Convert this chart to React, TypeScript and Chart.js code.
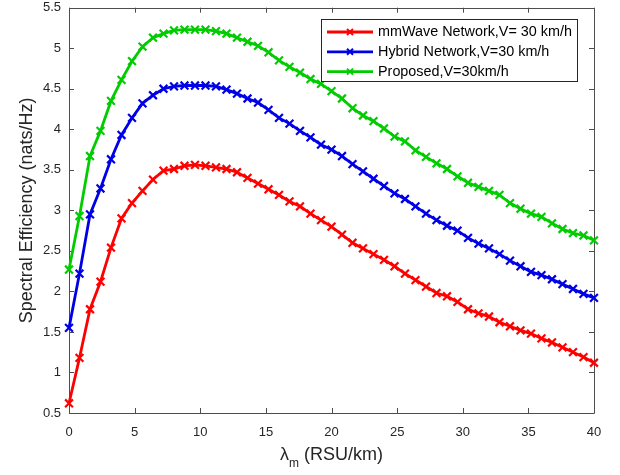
import React, { useEffect, useRef } from "react";
import { Chart, registerables } from "chart.js";

Chart.register(...registerables);

const lambdaValues = [
  0, 0.8, 1.6, 2.4, 3.2, 4, 4.8, 5.6, 6.4, 7.2, 8, 8.8, 9.6, 10.4, 11.2, 12, 12.8,
  13.6, 14.4, 15.2, 16, 16.8, 17.6, 18.4, 19.2, 20, 20.8, 21.6, 22.4, 23.2, 24,
  24.8, 25.6, 26.4, 27.2, 28, 28.8, 29.6, 30.4, 31.2, 32, 32.8, 33.6, 34.4, 35.2,
  36, 36.8, 37.6, 38.4, 39.2, 40,
];

const mmWaveValues = [
  0.62, 1.18, 1.78, 2.12, 2.54, 2.9, 3.09, 3.24, 3.38, 3.49, 3.51, 3.55, 3.56,
  3.55, 3.53, 3.51, 3.47, 3.4, 3.33, 3.26, 3.19, 3.11, 3.05, 2.96, 2.88, 2.8,
  2.7, 2.6, 2.53, 2.46, 2.39, 2.31, 2.22, 2.14, 2.06, 1.98, 1.94, 1.87, 1.78,
  1.73, 1.69, 1.62, 1.57, 1.52, 1.48, 1.42, 1.37, 1.31, 1.25, 1.19, 1.12,
];

const hybridValues = [
  1.55, 2.22, 2.95, 3.27, 3.63, 3.93, 4.14, 4.32, 4.42, 4.5, 4.53, 4.54, 4.54,
  4.54, 4.53, 4.49, 4.44, 4.38, 4.33, 4.24, 4.14, 4.07, 3.98, 3.9, 3.81, 3.75,
  3.67, 3.57, 3.48, 3.39, 3.3, 3.21, 3.14, 3.05, 2.96, 2.88, 2.81, 2.75, 2.66,
  2.59, 2.53, 2.46, 2.38, 2.31, 2.24, 2.2, 2.15, 2.09, 2.03, 1.97, 1.92,
];

const proposedValues = [
  2.27, 2.93, 3.67, 3.98, 4.35, 4.61, 4.84, 5.02, 5.13, 5.18, 5.22, 5.23, 5.23,
  5.23, 5.21, 5.18, 5.13, 5.08, 5.03, 4.95, 4.85, 4.77, 4.7, 4.62, 4.56, 4.47,
  4.38, 4.26, 4.17, 4.1, 4.01, 3.91, 3.85, 3.74, 3.66, 3.58, 3.51, 3.42, 3.34,
  3.29, 3.24, 3.19, 3.09, 3.02, 2.96, 2.92, 2.84, 2.77, 2.72, 2.69, 2.63,
];

const seriesLabels = [
  "mmWave Network,V= 30 km/h",
  "Hybrid Network,V=30 km/h",
  "Proposed,V=30km/h",
];
const seriesColors = ["#ff0000", "#0000e6", "#00cc00"];

const xTicks = [0, 5, 10, 15, 20, 25, 30, 35, 40];
const yTicks = [0.5, 1, 1.5, 2, 2.5, 3, 3.5, 4, 4.5, 5, 5.5];

const yTitle = "Spectral Efficiency (nats/Hz)";
const xTitleSymbol = "λ";
const xTitleSub = "m";
const xTitleRest = " (RSU/km)";

const FONT = "'Liberation Sans', Arial, Helvetica, sans-serif";
const AXIS_COLOR = "#4d4d4d";
const TEXT_COLOR = "#262626";

function drawX(ctx: CanvasRenderingContext2D, x: number, y: number, r: number) {
  ctx.beginPath();
  ctx.moveTo(x - r, y - r);
  ctx.lineTo(x + r, y + r);
  ctx.moveTo(x - r, y + r);
  ctx.lineTo(x + r, y - r);
  ctx.stroke();
}

const boxPlugin = {
  id: "matlabBox",
  beforeDatasetsDraw(chart: any) {
    const { ctx, chartArea } = chart;
    const { left, right, top, bottom } = chartArea;
    const xs = chart.scales.x;
    const ys = chart.scales.y;
    ctx.save();
    ctx.strokeStyle = AXIS_COLOR;
    ctx.lineWidth = 1;
    ctx.beginPath();
    ctx.rect(Math.round(left) + 0.5, Math.round(top) + 0.5, Math.round(right - left), Math.round(bottom - top));
    ctx.stroke();
    const tl = 5;
    ctx.beginPath();
    xTicks.forEach((v) => {
      const px = Math.round(xs.getPixelForValue(v)) + 0.5;
      ctx.moveTo(px, bottom);
      ctx.lineTo(px, bottom - tl);
      ctx.moveTo(px, top);
      ctx.lineTo(px, top + tl);
    });
    yTicks.forEach((v) => {
      const py = Math.round(ys.getPixelForValue(v)) + 0.5;
      ctx.moveTo(left, py);
      ctx.lineTo(left + tl, py);
      ctx.moveTo(right, py);
      ctx.lineTo(right - tl, py);
    });
    ctx.stroke();
    ctx.restore();
  },
  afterDraw(chart: any) {
    const { ctx, chartArea } = chart;
    const { left, right, top, bottom } = chartArea;
    ctx.save();
    // Y title
    ctx.fillStyle = TEXT_COLOR;
    ctx.font = `18px ${FONT}`;
    ctx.textAlign = "center";
    ctx.textBaseline = "alphabetic";
    ctx.translate(32, (top + bottom) / 2);
    ctx.rotate(-Math.PI / 2);
    ctx.fillText(yTitle, 0, 0);
    ctx.restore();

    // X title
    ctx.save();
    ctx.fillStyle = TEXT_COLOR;
    ctx.textBaseline = "alphabetic";
    ctx.textAlign = "left";
    const big = `18px ${FONT}`;
    const small = `12px ${FONT}`;
    ctx.font = big;
    const w1 = ctx.measureText(xTitleSymbol).width;
    const w3 = ctx.measureText(xTitleRest).width;
    ctx.font = small;
    const w2 = ctx.measureText(xTitleSub).width;
    const total = w1 + w2 + w3;
    let x0 = (left + right) / 2 - total / 2;
    const base = 460;
    ctx.font = big;
    ctx.fillText(xTitleSymbol, x0, base);
    x0 += w1;
    ctx.font = small;
    ctx.fillText(xTitleSub, x0, base + 7);
    x0 += w2;
    ctx.font = big;
    ctx.fillText(xTitleRest, x0, base);
    ctx.restore();

    // Legend
    ctx.save();
    const lx = 321.5, ly = 19.5, lw = 256, lh = 62;
    ctx.fillStyle = "#ffffff";
    ctx.fillRect(lx, ly, lw, lh);
    ctx.strokeStyle = "#262626";
    ctx.lineWidth = 1;
    ctx.strokeRect(lx, ly, lw, lh);
    ctx.font = `13.5px ${FONT}`;
    const mw = ctx.measureText(seriesLabels[0]).width;
    const fs = (13.5 * 194) / mw;
    ctx.font = `${fs.toFixed(2)}px ${FONT}`;
    ctx.textBaseline = "middle";
    ctx.textAlign = "left";
    chart.data.datasets.forEach((ds: any, i: number) => {
      const ry = 32 + i * 19.8;
      ctx.strokeStyle = ds.borderColor;
      ctx.lineWidth = 2.8;
      ctx.beginPath();
      ctx.moveTo(327, ry);
      ctx.lineTo(373, ry);
      ctx.stroke();
      ctx.lineWidth = 2;
      drawX(ctx, 350, ry, 3);
      ctx.fillStyle = "#000000";
      ctx.fillText(ds.label, 378, ry + 0.5);
    });
    ctx.restore();
  },
};

export default function App() {
  const canvasRef = useRef<HTMLCanvasElement | null>(null);

  useEffect(() => {
    if (!canvasRef.current) return;
    const makeData = (vals: number[]) => lambdaValues.map((x, i) => ({ x, y: vals[i] }));
    const all = [mmWaveValues, hybridValues, proposedValues];
    const chart = new Chart(canvasRef.current, {
      type: "line",
      data: {
        datasets: all.map((vals, i) => ({
          label: seriesLabels[i],
          data: makeData(vals),
          borderColor: seriesColors[i],
          backgroundColor: seriesColors[i],
          borderWidth: 2.8,
          pointStyle: "crossRot",
          pointRadius: 5.5,
          pointBorderWidth: 2.2,
          pointBorderColor: seriesColors[i],
          tension: 0,
          clip: false,
        })),
      },
      options: {
        animation: false,
        responsive: false,
        devicePixelRatio: 1,
        layout: { padding: { left: 0, right: 26, top: 6, bottom: 0 } },
        plugins: {
          legend: { display: false },
          tooltip: { enabled: false },
        },
        scales: {
          x: {
            type: "linear",
            min: 0,
            max: 40,
            grid: { display: false, drawTicks: false },
            border: { display: false },
            afterBuildTicks: (s: any) => {
              s.ticks = xTicks.map((v) => ({ value: v }));
            },
            afterFit: (s: any) => {
              s.height = 62;
              s.paddingLeft = 0;
              s.paddingRight = 0;
            },
            ticks: {
              padding: 12,
              color: TEXT_COLOR,
              font: { family: FONT, size: 13 },
              maxRotation: 0,
              callback: (v: any) => String(v),
            },
          },
          y: {
            type: "linear",
            min: 0.5,
            max: 5.5,
            grid: { display: false, drawTicks: false },
            border: { display: false },
            afterBuildTicks: (s: any) => {
              s.ticks = yTicks.map((v) => ({ value: v }));
            },
            afterFit: (s: any) => {
              s.width = 69;
              s.paddingTop = 0;
              s.paddingBottom = 0;
            },
            ticks: {
              padding: 8,
              color: TEXT_COLOR,
              font: { family: FONT, size: 13 },
              callback: (v: any) => String(Math.round(Number(v) * 10) / 10),
            },
          },
        },
      },
      plugins: [boxPlugin],
    } as any);
    return () => chart.destroy();
  }, []);

  return (
    <div style={{ position: "absolute", left: 0, top: 0, width: 620, height: 475, background: "#ffffff" }}>
      <canvas ref={canvasRef} width={620} height={475} />
    </div>
  );
}
